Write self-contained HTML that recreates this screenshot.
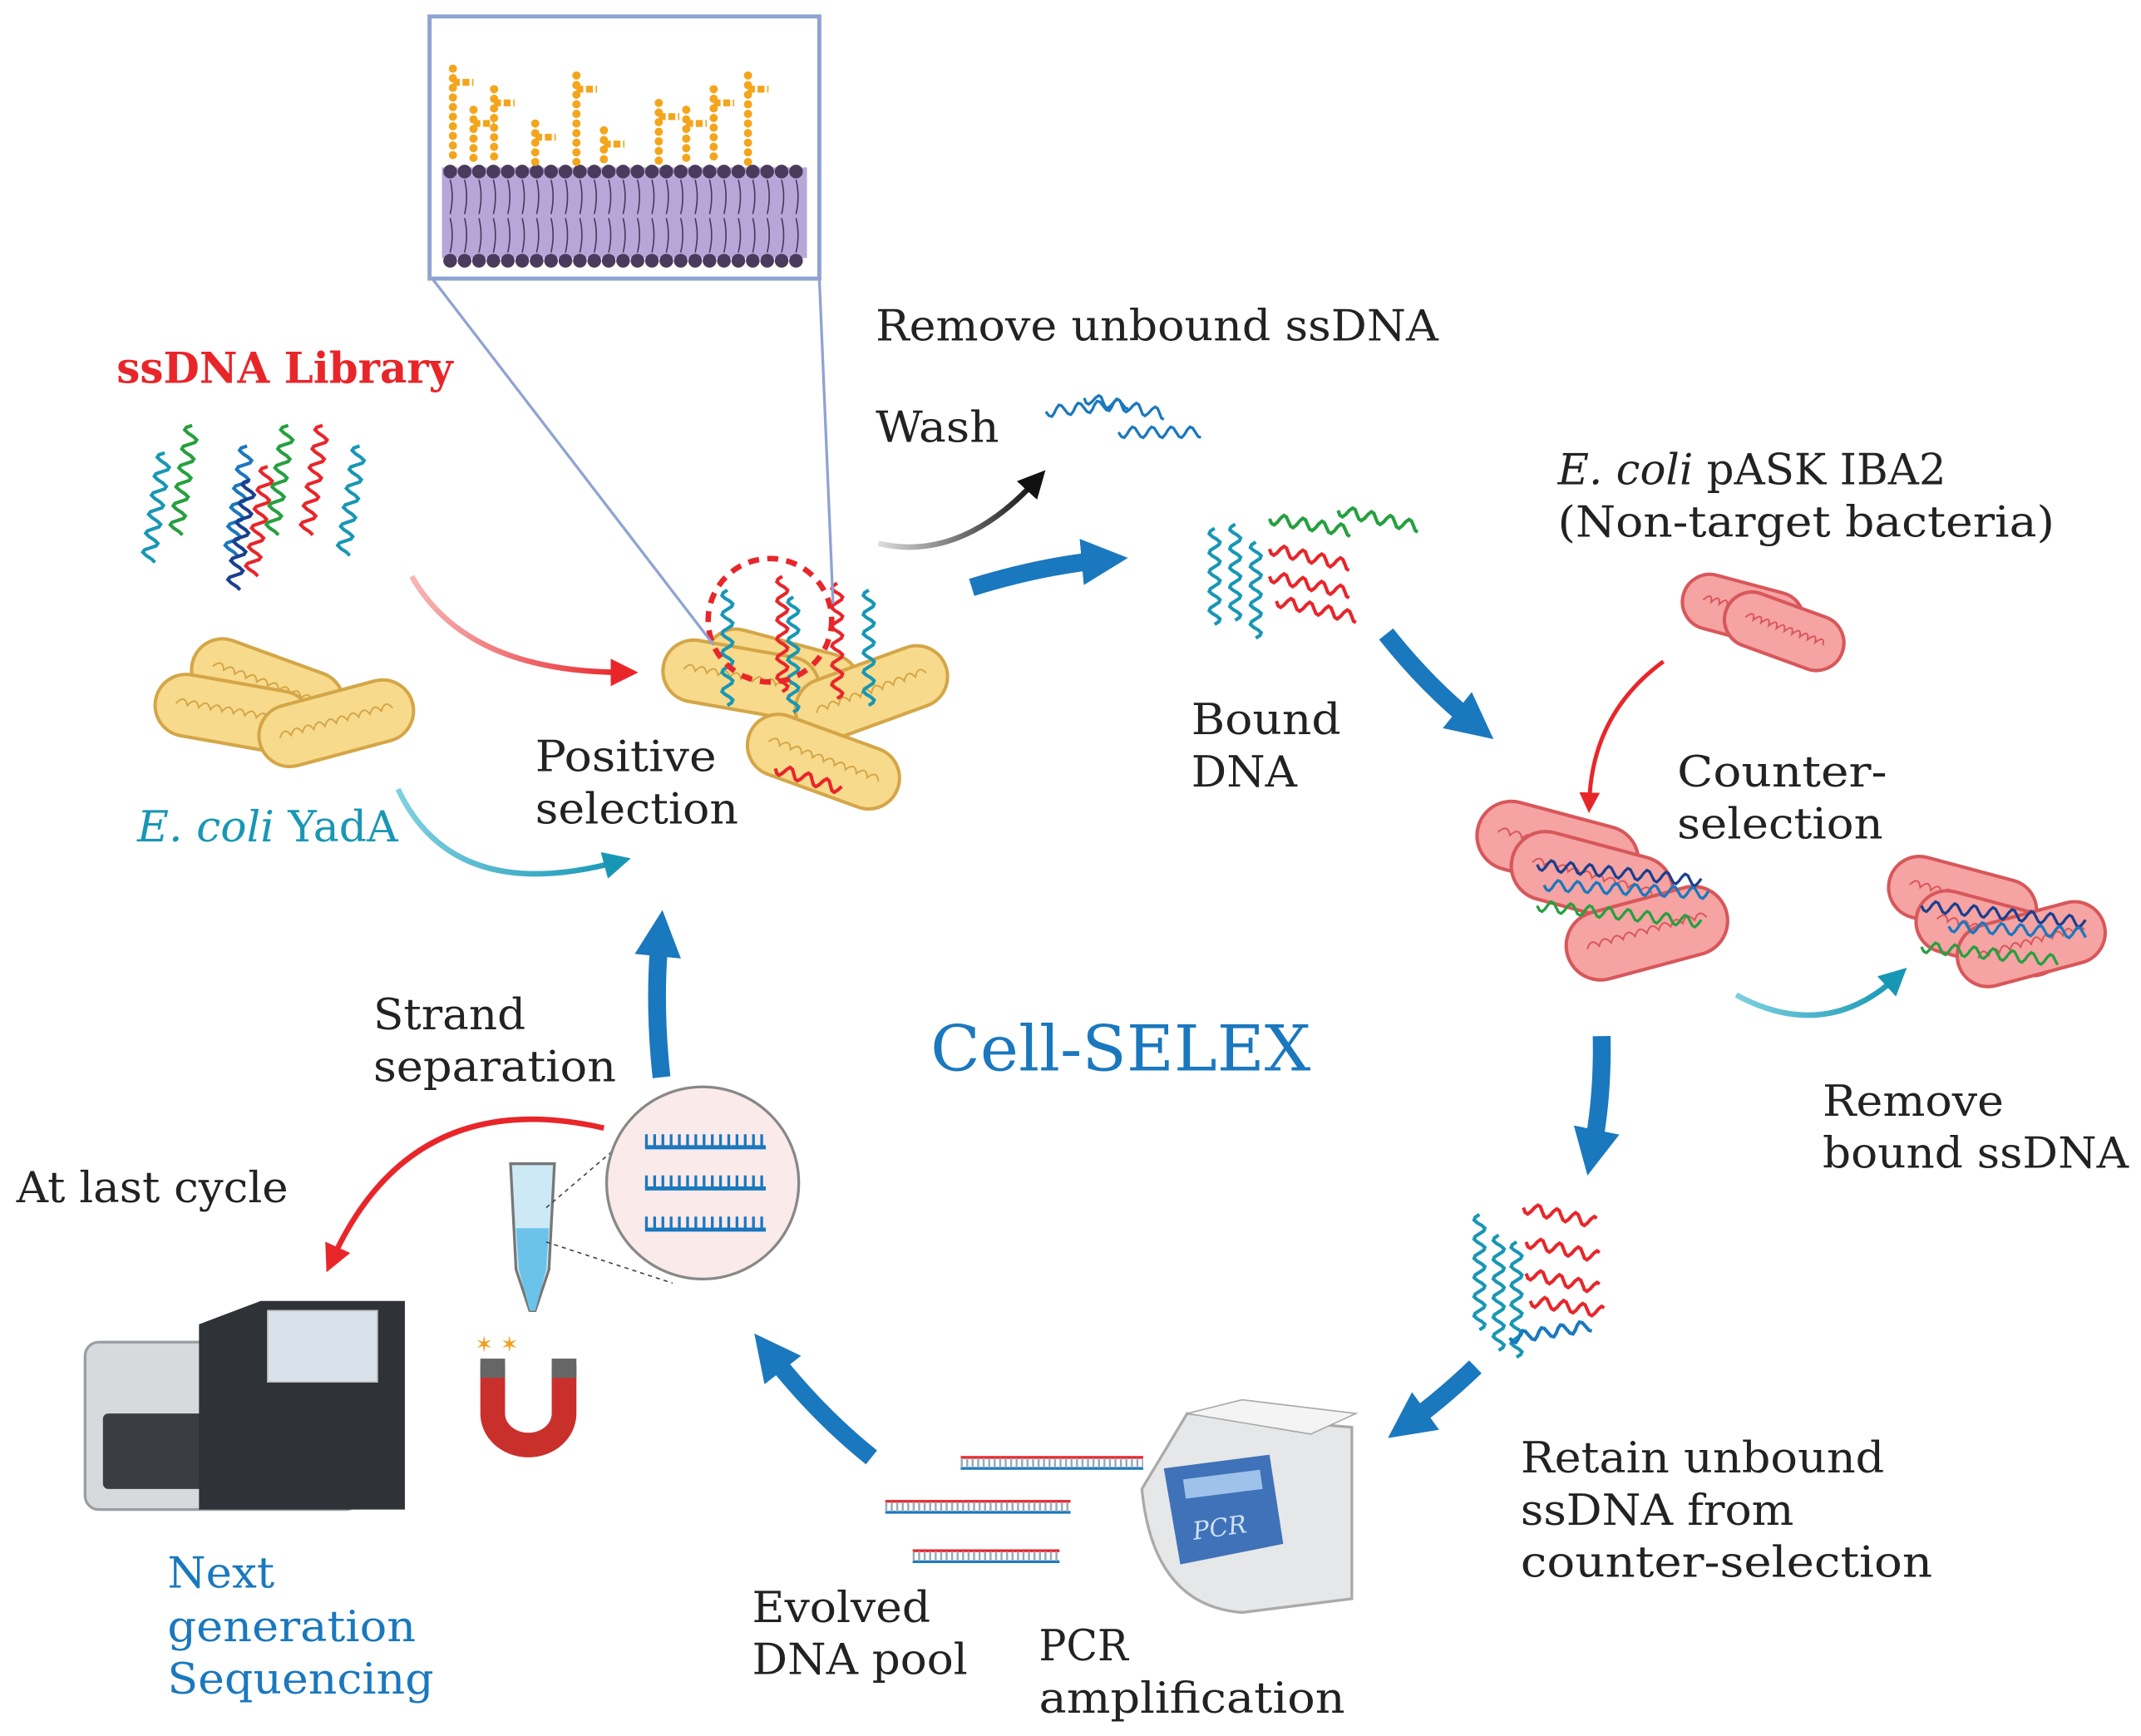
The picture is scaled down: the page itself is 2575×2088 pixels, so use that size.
<!DOCTYPE html>
<html><head><meta charset="utf-8"><style>
html,body{margin:0;padding:0;background:#fff;}
svg{display:block;}
text{font-family:"DejaVu Serif","Liberation Serif",serif;font-size:31px;fill:#222;}
</style></head><body>
<svg id="s" xmlns="http://www.w3.org/2000/svg" width="2575" height="2088" viewBox="0 0 1560 1265" preserveAspectRatio="none">
<defs>
<marker id="ab" viewBox="0 0 10 10" refX="5" refY="5" markerWidth="2.6" markerHeight="2.6" orient="auto"><path d="M0,0L10,5L0,10z" fill="#1a78be"/></marker>
<marker id="ak" viewBox="0 0 10 10" refX="5" refY="5" markerWidth="5" markerHeight="5" orient="auto"><path d="M0,0L10,5L0,10z" fill="#111"/></marker>
<marker id="ar" viewBox="0 0 10 10" refX="5" refY="5" markerWidth="5" markerHeight="5" orient="auto"><path d="M0,0L10,5L0,10z" fill="#e8262a"/></marker>
<marker id="at" viewBox="0 0 10 10" refX="5" refY="5" markerWidth="5" markerHeight="5" orient="auto"><path d="M0,0L10,5L0,10z" fill="#1897b5"/></marker>
<linearGradient id="gr" x1="0" x2="1"><stop offset="0" stop-color="#f6b6b6"/><stop offset="1" stop-color="#e8262a"/></linearGradient>
<linearGradient id="gt" x1="0" x2="1"><stop offset="0" stop-color="#7fd0e0"/><stop offset="1" stop-color="#1897b5"/></linearGradient>
<linearGradient id="gk" x1="0" x2="1"><stop offset="0" stop-color="#ddd"/><stop offset="1" stop-color="#111"/></linearGradient>
</defs>
<g id="deco"></g>

<!-- inset box -->
<rect x="313" y="12" width="284" height="191" fill="#fff" stroke="#8fa3d3" stroke-width="3"/>
<rect x="322" y="122" width="266" height="66" fill="#b9a6d9"/>
<g id="mem"></g>
<line x1="315" y1="203" x2="520" y2="470" stroke="#8fa3d3" stroke-width="2"/>
<line x1="597" y1="203" x2="607" y2="440" stroke="#8fa3d3" stroke-width="2"/>

<!-- big blue arrows -->
<g fill="none" stroke="#1a78be" stroke-width="13" marker-end="url(#ab)">
<path d="M708,428 Q760,412 805,408"/>
<path d="M1010,462 Q1040,500 1075,528"/>
<path d="M1167,755 Q1168,800 1160,840"/>
<path d="M1075,996 Q1050,1020 1025,1038"/>
<path d="M635,1062 Q595,1030 560,985"/>
<path d="M482,785 Q476,730 481,680"/>
</g>
<path d="M640,396 Q700,410 755,350" fill="none" stroke="url(#gk)" stroke-width="4" marker-end="url(#ak)"/>
<path d="M300,420 Q340,490 455,490" fill="none" stroke="url(#gr)" stroke-width="4" marker-end="url(#ar)"/>
<path d="M290,575 Q330,660 450,628" fill="none" stroke="url(#gt)" stroke-width="4" marker-end="url(#at)"/>
<path d="M1212,482 Q1160,520 1158,585" fill="none" stroke="#e8262a" stroke-width="3" marker-end="url(#ar)"/>
<path d="M1265,725 Q1330,760 1382,712" fill="none" stroke="url(#gt)" stroke-width="4" marker-end="url(#at)"/>
<path d="M440,822 Q300,790 242,918" fill="none" stroke="#e8262a" stroke-width="4" marker-end="url(#ar)"/>

<!-- sequencer -->
<rect x="62" y="978" width="200" height="122" rx="10" fill="#d7d9dc" stroke="#9a9ea3" stroke-width="2"/>
<rect x="75" y="1030" width="90" height="55" rx="4" fill="#3a3d42"/>
<path d="M145,965 L190,948 L295,948 L295,1100 L145,1100z" fill="#2f3236"/>
<rect x="195" y="955" width="80" height="52" fill="#d9e2ea" stroke="#bbb"/>
<!-- magnet -->
<path d="M350,995 L350,1030 A35,32 0 0 0 420,1030 L420,995 L402,995 L402,1030 A17,14 0 0 1 368,1030 L368,995z" fill="#c9302c"/>
<rect x="350" y="990" width="18" height="14" fill="#666"/><rect x="402" y="990" width="18" height="14" fill="#666"/>
<text x="346" y="985" style="font-size:16px;fill:#f0a020">✶ ✶</text>
<!-- tube -->
<path d="M372,848 L404,848 L400,925 L390,955 L386,955 L376,925z" fill="#cde9f6" stroke="#777" stroke-width="2"/>
<path d="M376,895 L400,895 L398,925 L390,955 L386,955 L378,925z" fill="#6cc3ea"/>
<line x1="398" y1="880" x2="480" y2="810" stroke="#444" stroke-dasharray="3 3"/>
<line x1="398" y1="905" x2="490" y2="935" stroke="#444" stroke-dasharray="3 3"/>
<circle cx="512" cy="862" r="70" fill="#fbeaea" stroke="#888" stroke-width="2"/>
<g id="top"></g>
<!-- PCR -->
<path d="M832,1085 Q840,1170 905,1175 L985,1165 L985,1040 L865,1030z" fill="#e6e7e8" stroke="#aaa" stroke-width="2"/>
<path d="M865,1030 L905,1020 L988,1030 L955,1045z" fill="#f4f4f4" stroke="#aaa"/>
<path d="M848,1070 L925,1060 L935,1125 L860,1140z" fill="#3f72b8"/>
<path d="M862,1078 L918,1071 L920,1085 L864,1092z" fill="#9fc2ea"/>
<text x="870" y="1122" transform="rotate(-8 870 1122)" style="font-size:18px;fill:#cfe0f5;font-style:italic">PCR</text>

<!-- text -->
<g lengthAdjust="spacingAndGlyphs">
<text x="85" y="279" textLength="245" lengthAdjust="spacingAndGlyphs" style="fill:#e8262a;font-weight:bold">ssDNA Library</text>
<text x="638" y="248" textLength="410" lengthAdjust="spacingAndGlyphs">Remove unbound ssDNA</text>
<text x="638" y="322" textLength="90" lengthAdjust="spacingAndGlyphs">Wash</text>
<text x="1135" y="353" textLength="283" lengthAdjust="spacingAndGlyphs"><tspan font-style="italic">E. coli</tspan> pASK IBA2</text>
<text x="1135" y="391" textLength="362" lengthAdjust="spacingAndGlyphs">(Non-target bacteria)</text>
<text x="868" y="535" textLength="109" lengthAdjust="spacingAndGlyphs">Bound</text><text x="868" y="573" textLength="77" lengthAdjust="spacingAndGlyphs">DNA</text>
<text x="390" y="562" textLength="132" lengthAdjust="spacingAndGlyphs">Positive</text><text x="390" y="600" textLength="148" lengthAdjust="spacingAndGlyphs">selection</text>
<text x="100" y="613" textLength="190" lengthAdjust="spacingAndGlyphs" style="fill:#1897b5"><tspan font-style="italic">E. coli</tspan> YadA</text>
<text x="1222" y="573" textLength="153" lengthAdjust="spacingAndGlyphs">Counter-</text><text x="1222" y="611" textLength="150" lengthAdjust="spacingAndGlyphs">selection</text>
<text x="678" y="780" textLength="277" lengthAdjust="spacingAndGlyphs" style="font-size:46px;fill:#1a78be">Cell-SELEX</text>
<text x="272" y="750" textLength="111" lengthAdjust="spacingAndGlyphs">Strand</text><text x="272" y="788" textLength="177" lengthAdjust="spacingAndGlyphs">separation</text>
<text x="12" y="876" textLength="198" lengthAdjust="spacingAndGlyphs">At last cycle</text>
<text x="1328" y="813" textLength="132" lengthAdjust="spacingAndGlyphs">Remove</text><text x="1328" y="851" textLength="223" lengthAdjust="spacingAndGlyphs">bound ssDNA</text>
<text x="1108" y="1073" textLength="265" lengthAdjust="spacingAndGlyphs">Retain unbound</text><text x="1108" y="1111" textLength="199" lengthAdjust="spacingAndGlyphs">ssDNA from</text><text x="1108" y="1149" textLength="300" lengthAdjust="spacingAndGlyphs">counter-selection</text>
<text x="122" y="1157" textLength="78" lengthAdjust="spacingAndGlyphs" style="fill:#1a78be">Next</text><text x="122" y="1196" textLength="181" lengthAdjust="spacingAndGlyphs" style="fill:#1a78be">generation</text><text x="122" y="1234" textLength="194" lengthAdjust="spacingAndGlyphs" style="fill:#1a78be">Sequencing</text>
<text x="548" y="1182" textLength="130" lengthAdjust="spacingAndGlyphs">Evolved</text><text x="548" y="1220" textLength="157" lengthAdjust="spacingAndGlyphs">DNA pool</text>
<text x="757" y="1210" textLength="65" lengthAdjust="spacingAndGlyphs">PCR</text><text x="757" y="1248" textLength="223" lengthAdjust="spacingAndGlyphs">amplification</text>
</g>
</svg>
<script>
var NS="http://www.w3.org/2000/svg",D=document.getElementById('deco'),M=document.getElementById('mem'),T=document.getElementById('top');
function el(t,a,p){var e=document.createElementNS(NS,t);for(var k in a)e.setAttribute(k,a[k]);(p||D).appendChild(e);return e;}
function wave(x,y,len,ang,col,amp,per,w){amp=amp||5;per=per||18;var c=Math.cos(ang),s=Math.sin(ang),d="";
 for(var t=0;t<=len;t+=2){var o=amp*Math.sin(t/per*2*Math.PI);var px=x+t*c-o*s,py=y+t*s+o*c;d+=(t?"L":"M")+px.toFixed(1)+","+py.toFixed(1);}
 el('path',{d:d,fill:'none',stroke:col,'stroke-width':w||2.5});}
function cell(cx,cy,l,h,ang,f,s){var g=el('g',{transform:'rotate('+ang+' '+cx+' '+cy+')'});
 el('rect',{x:cx-l/2,y:cy-h/2,width:l,height:h,rx:h/2,fill:f,stroke:s,'stroke-width':2.5},g);
 var d="M"+(cx-l/2+15)+","+cy;for(var i=0;i<10;i++)d+=" q5,-8 "+(l-30)/10+",0";
 el('path',{d:d,fill:'none',stroke:s,'stroke-width':1.2},g);}
var lc=['#1897b5','#26a040','#1a78be','#e8262a','#26a040','#e8262a','#1897b5','#1a3f8f'];
[[120,330],[140,310],[180,325],[195,340],[210,310],[235,310],[262,325],[182,350]].forEach(function(p,i){wave(p[0],p[1],80,Math.PI/2+0.15,lc[i],5,14,2.5);});
var Y='#f8da8c',YS='#d4a648';
cell(195,500,115,45,20,Y,YS);cell(170,520,115,45,10,Y,YS);cell(245,527,115,45,-15,Y,YS);
cell(570,490,115,45,15,Y,YS);cell(540,495,115,45,10,Y,YS);cell(635,505,115,45,-20,Y,YS);cell(600,555,115,45,20,Y,YS);
[[530,430,'#1897b5'],[578,435,'#1897b5'],[633,430,'#1897b5'],[570,420,'#e8262a'],[610,425,'#e8262a']].forEach(function(p){wave(p[0],p[1],85,Math.PI/2,p[2],4,14,2.5);});
wave(565,560,50,0.3,'#e8262a',4,14,2.5);
el('circle',{cx:561,cy:452,r:45,fill:'none',stroke:'#e8262a','stroke-width':4,'stroke-dasharray':'8 6'});
for(var x=328;x<588;x+=10.5){el('circle',{cx:x,cy:125,r:5,fill:'#4a3a5c'},M);el('circle',{cx:x,cy:190,r:5,fill:'#4a3a5c'},M);
 el('path',{d:'M'+x+',131 q3,12 0,25 M'+x+',159 q3,12 0,25',stroke:'#4a3a5c',fill:'none','stroke-width':1},M);}
[[330,50],[345,80],[360,65],[390,90],[420,55],[440,95],[480,75],[500,80],[520,65],[545,55]].forEach(function(p){
 for(var y=p[1];y<120;y+=7){el('circle',{cx:p[0],cy:y,r:3,fill:'#f4a51c'},M);}
 el('line',{x1:p[0],y1:p[1]+10,x2:p[0]+15,y2:p[1]+10,stroke:'#f4a51c','stroke-width':5,'stroke-dasharray':'5 2'},M);});
wave(368,25,95,Math.PI/2,'#e8262a',4,20,2.5);wave(430,20,100,Math.PI/2,'#1897b5',4,20,2.5);wave(552,20,100,Math.PI/2,'#1897b5',4,20,2.5);wave(460,60,60,Math.PI/2,'#e8262a',4,20,2.5);
wave(762,300,60,-0.1,'#1a78be',4,14,2);wave(790,290,60,0.2,'#1a78be',4,14,2);wave(815,315,60,0,'#1a78be',4,14,2);
[[885,385],[900,382],[915,395]].forEach(function(p){wave(p[0],p[1],70,Math.PI/2,'#1897b5',4,14,2.5);});
wave(925,378,60,0.15,'#26a040',4,14,2.5);wave(975,372,60,0.2,'#26a040',4,14,2.5);
wave(925,400,60,0.2,'#e8262a',4,14,2.5);wave(925,420,60,0.2,'#e8262a',4,14,2.5);wave(930,438,60,0.2,'#e8262a',4,14,2.5);
var P='#f5a3a3',PS='#d8575a';
cell(1270,445,90,40,15,P,PS);cell(1300,460,90,40,20,P,PS);
cell(1135,618,120,50,15,P,PS);cell(1160,640,120,50,15,P,PS);cell(1200,680,120,50,-15,P,PS);
wave(1120,630,120,0.1,'#1a3f8f',4,14,2);wave(1125,645,120,0.05,'#1a78be',4,14,2);wave(1120,660,120,0.1,'#26a040',4,14,2);
cell(1430,655,110,45,15,P,PS);cell(1450,680,110,45,15,P,PS);cell(1480,688,110,45,-15,P,PS);
wave(1400,660,120,0.1,'#1a3f8f',4,14,2);wave(1420,675,100,0.05,'#1a78be',4,14,2);wave(1400,690,100,0.1,'#26a040',4,14,2);
[[1078,885],[1092,900],[1105,905]].forEach(function(p){wave(p[0],p[1],85,Math.PI/2,'#1897b5',4,14,2.5);});
wave(1110,880,55,0.2,'#e8262a',4,14,2.5);wave(1112,905,55,0.2,'#e8262a',4,14,2.5);wave(1112,928,55,0.2,'#e8262a',4,14,2.5);wave(1115,948,55,0.15,'#e8262a',4,14,2.5);wave(1100,975,60,-0.15,'#1a78be',4,14,2.5);
function dup(x,y,l,a,b){el('line',{x1:x,y1:y,x2:x+l,y2:y,stroke:a,'stroke-width':2});el('line',{x1:x,y1:y+8,x2:x+l,y2:y+8,stroke:b,'stroke-width':2});
 el('line',{x1:x,y1:y+4,x2:x+l,y2:y+4,stroke:'#9ab','stroke-width':7,'stroke-dasharray':'1.5 2.5'});}
dup(700,1062,133,'#e8262a','#1a78be');dup(645,1094,135,'#e8262a','#1a78be');dup(665,1130,107,'#e8262a','#1a78be');
[[470,836],[470,866],[470,896]].forEach(function(p){el('line',{x1:p[0],y1:p[1],x2:p[0]+88,y2:p[1],stroke:'#1a78be','stroke-width':3},T);
 el('line',{x1:p[0],y1:p[1]-5,x2:p[0]+88,y2:p[1]-5,stroke:'#1a78be','stroke-width':9,'stroke-dasharray':'2 4'},T);});
</script>
</body></html>
